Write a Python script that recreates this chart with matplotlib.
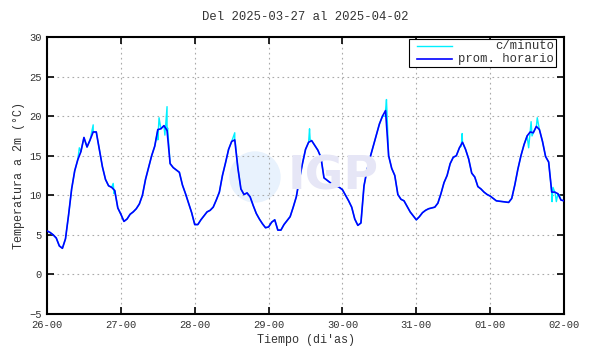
import numpy as np
import matplotlib
matplotlib.use('Agg')
import matplotlib.pyplot as plt
from matplotlib.patches import Circle, Rectangle

# hourly means, one list per day (00h..23h)
d26 = [5.5, 5.3, 5.0, 4.6, 3.6, 3.3, 4.5, 7.5, 10.8, 13.1, 14.5, 15.5,
       17.3, 16.1, 17.0, 18.0, 18.0, 15.8, 13.6, 12.0, 11.2, 11.0, 10.6, 8.4]
d27 = [7.6, 6.7, 7.0, 7.6, 7.9, 8.3, 8.9, 10.0, 12.0, 13.5, 15.0, 16.2,
       18.3, 18.4, 18.8, 18.2, 14.0, 13.5, 13.2, 12.9, 11.3, 10.2, 9.0, 7.8]
d28 = [6.3, 6.3, 6.9, 7.4, 7.9, 8.1, 8.5, 9.4, 10.4, 12.5, 14.1, 15.8,
       16.8, 17.0, 13.5, 10.8, 10.1, 10.3, 9.8, 8.7, 7.7, 7.0, 6.4, 5.9]
d29 = [6.0, 6.6, 6.9, 5.6, 5.6, 6.3, 6.8, 7.3, 8.5, 9.8, 12.0, 14.0,
       15.8, 16.7, 16.9, 16.3, 15.7, 14.8, 12.2, 11.9, 11.6, 11.3, 11.2, 11.0]
d30 = [10.7, 10.0, 9.3, 8.5, 7.0, 6.2, 6.5, 11.2, 13.2, 14.8, 16.2, 17.6,
       19.0, 20.0, 20.7, 15.0, 13.4, 12.5, 10.1, 9.5, 9.3, 8.6, 7.9, 7.4]
d31 = [6.9, 7.3, 7.8, 8.1, 8.3, 8.4, 8.5, 9.0, 10.2, 11.6, 12.5, 14.0,
       14.8, 15.0, 16.0, 16.7, 15.8, 14.6, 12.8, 12.3, 11.1, 10.8, 10.4, 10.1]
d01 = [9.9, 9.6, 9.3, 9.25, 9.2, 9.15, 9.1, 9.6, 11.3, 13.3, 15.0, 16.4,
       17.5, 18.0, 17.9, 18.7, 18.3, 16.8, 14.9, 14.2, 10.4, 10.4, 10.2, 9.4]
d02 = [9.3]

# short-lived excursions of the minute series (hours from 26-00, value)
spike_t = [10.5, 15.0, 21.5, 21.8, 36.0, 36.4, 38.3, 39.0, 39.2, 61.0, 61.2,
           85.3, 85.5, 110.0, 110.3, 134.6, 134.9, 156.5, 157.3, 157.6,
           159.3, 164.1, 164.4, 165.1, 165.5, 166.5]
spike_v = [16.0, 18.9, 11.5, 10.2, 17.0, 19.8, 17.6, 21.2, 18.5, 17.9, 16.6,
           18.4, 17.0, 20.0, 22.1, 16.2, 17.8, 16.0, 19.3, 17.5,
           19.8, 9.2, 11.0, 10.3, 9.2, 10.0]

xlabels = ['26-00', '27-00', '28-00', '29-00', '30-00', '31-00', '01-00', '02-00']

hourly = np.array(d26 + d27 + d28 + d29 + d30 + d31 + d01 + d02)
t_hour = np.arange(len(hourly)) / 24.0

# minute series: hourly points plus the visible excursions
t_min = np.concatenate([t_hour, np.array(spike_t) / 24.0])
v_min = np.concatenate([hourly, spike_v])
order = np.argsort(t_min)
t_min, v_min = t_min[order], v_min[order]

plt.rcParams['font.family'] = ['Liberation Mono', 'DejaVu Sans Mono']
txt = '#333333'

fig = plt.figure(figsize=(5.9, 3.54), dpi=100)
ax = fig.add_axes([0.0797, 0.113, 0.8763, 0.7825])

# faint IGP watermark
ax.add_patch(Circle((255, 177), 25, transform=None, color='#e8f2fd', zorder=0))
fig.text(0.488, 0.50, 'IGP', fontsize=34, fontweight='bold', color='#e6e6f6',
         family='DejaVu Sans', ha='left', va='center', zorder=0)

ax.plot(t_min, v_min, color='#00f0ff', lw=1.0, zorder=2)
ax.plot(t_hour, hourly, color='#0000ff', lw=1.2, zorder=3)

ax.set_xlim(0, 7)
ax.set_ylim(-5, 30)
ax.set_xticks(range(8))
ax.set_xticklabels(xlabels)
ax.set_yticks(range(-5, 31, 5))
ax.grid(True, color='#aaaaaa', linestyle=(0, (1.5, 3)), lw=0.8)
ax.tick_params(direction='in', length=5, width=1.2, top=True, right=True,
               labelsize=7.6, colors='black', labelcolor=txt, pad=4)
for s in ax.spines.values():
    s.set_linewidth(1.5)
    s.set_color('black')

ax.set_title('Del 2025-03-27 al 2025-04-02', fontsize=8.8, color=txt, pad=12)
ax.set_xlabel('Tiempo (di\'as)', fontsize=8.5, color=txt, labelpad=3)
ax.set_ylabel('Temperatura a 2m (°C)', fontsize=8.5, color=txt, labelpad=3)

# legend drawn gnuplot-style: sample on the left, text right-aligned
ax.add_patch(Rectangle((0.700, 0.892), 0.2845, 0.101, transform=ax.transAxes,
                       facecolor='white', edgecolor='black', lw=0.8, zorder=5))
ax.plot([0.716, 0.784], [0.9675, 0.9675], transform=ax.transAxes,
        color='#00f0ff', lw=1.0, zorder=6)
ax.plot([0.716, 0.784], [0.919, 0.919], transform=ax.transAxes,
        color='#0000ff', lw=1.2, zorder=6)
ax.text(0.981, 0.9675, 'c/minuto', transform=ax.transAxes, ha='right',
        va='center', fontsize=8.8, color=txt, zorder=6)
ax.text(0.981, 0.919, 'prom. horario', transform=ax.transAxes, ha='right',
        va='center', fontsize=8.8, color=txt, zorder=6)

fig.savefig('out.png', dpi=100)
